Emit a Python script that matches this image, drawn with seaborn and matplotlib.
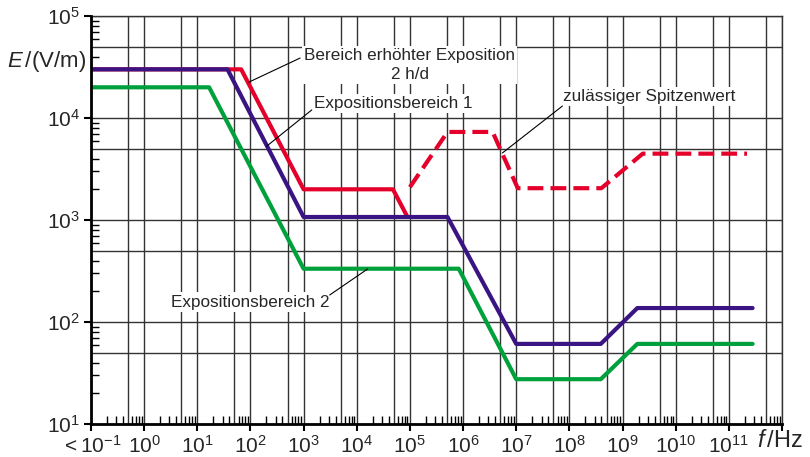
import numpy as np
import pandas as pd
import seaborn as sns
import matplotlib.pyplot as plt
from matplotlib.ticker import FixedLocator, NullFormatter

# Grenzwerte E-Feld
freq_bereich1 = [0.1, 37, 1e3, 5.1e5, 1e7, 3.9e8, 1.9e9, 2.8e11]
e_bereich1 = [3e4, 3e4, 1070, 1070, 61, 61, 137, 137]

freq_bereich2 = [0.1, 16.7, 1e3, 8.3e5, 1e7, 3.9e8, 1.9e9, 2.8e11]
e_bereich2 = [2e4, 2e4, 333, 333, 27.5, 27.5, 61, 61]

freq_erhoeht = [0.1, 67, 1e3, 4.8e4, 9e4]
e_erhoeht = [3e4, 3e4, 2000, 2000, 1070]

freq_spitze = [1e5, 5.1e5, 3.6e6, 1.07e7, 4e8, 2.4e9, 2.2e11]
e_spitze = [2100, 7300, 7300, 2050, 2050, 4470, 4470]

x_decades = list(range(-1, 13))
x_labels = ["$<10^{-1}$"] + ["$10^{%d}$" % d for d in range(0, 12)] + [""]
y_decades = list(range(1, 6))
y_labels = ["$10^{%d}$" % d for d in y_decades]

RED = "#e4002b"
PURPLE = "#3a1482"
GREEN = "#00a13c"

sns.set_style("white")
plt.rcParams['font.family'] = ['Liberation Sans', 'DejaVu Sans']
plt.rcParams['mathtext.fontset'] = 'custom'
plt.rcParams['mathtext.rm'] = 'Liberation Sans'
plt.rcParams['mathtext.it'] = 'Liberation Sans:italic'

fig = plt.figure(figsize=(8.1, 4.57), dpi=100)
ax = fig.add_axes([0.1123, 0.0722, 0.8531, 0.8928])
ax.set_xscale('log')
ax.set_yscale('log')
ax.set_xlim(0.1, 1e12)
ax.set_ylim(10, 1e5)

# grid: decades + 5x lines
grid_kw = dict(color='0.2', lw=1.0, zorder=0)
for d in x_decades:
    ax.axvline(10.0 ** d, **grid_kw)
    if d < 12:
        ax.axvline(5 * 10.0 ** d, **grid_kw)
for d in y_decades:
    ax.axhline(10.0 ** d, **grid_kw)
    if d < 5:
        ax.axhline(5 * 10.0 ** d, **grid_kw)

lw = 3
sns.lineplot(x=freq_bereich2, y=e_bereich2, ax=ax, color=GREEN, lw=lw, sort=False, estimator=None, zorder=3)
sns.lineplot(x=freq_erhoeht, y=e_erhoeht, ax=ax, color=RED, lw=lw, sort=False, estimator=None, zorder=3)
sns.lineplot(x=freq_spitze, y=e_spitze, ax=ax, color=RED, lw=lw, sort=False, estimator=None, zorder=3,
             linestyle=(0, (3.8, 1.7)))
sns.lineplot(x=freq_bereich1, y=e_bereich1, ax=ax, color=PURPLE, lw=lw, sort=False, estimator=None, zorder=4)

# ticks
ax.xaxis.set_major_locator(FixedLocator([10.0 ** d for d in x_decades]))
ax.set_xticklabels(x_labels)
ax.yaxis.set_major_locator(FixedLocator([10.0 ** d for d in y_decades]))
ax.set_yticklabels(y_labels)
subs = [2, 3, 4, 6, 7, 8, 9]
ax.xaxis.set_minor_locator(FixedLocator([s * 10.0 ** d for d in x_decades[:-1] for s in subs]))
ax.yaxis.set_minor_locator(FixedLocator([s * 10.0 ** d for d in y_decades[:-1] for s in subs]))
ax.xaxis.set_minor_formatter(NullFormatter())
ax.yaxis.set_minor_formatter(NullFormatter())
ax.tick_params(which='both', bottom=True, left=True, top=False, right=False)
ax.tick_params(which='major', direction='out', length=5, width=1.5, labelsize=15, color='black', pad=3)
ax.tick_params(which='minor', direction='in', length=6, width=1, color='black')
ax.set_xlabel("")
ax.set_ylabel("")

for side in ['left', 'bottom']:
    ax.spines[side].set_linewidth(2)
    ax.spines[side].set_color('black')
    ax.spines[side].set_zorder(5)
for side in ['top', 'right']:
    ax.spines[side].set_linewidth(1.0)
    ax.spines[side].set_color('0.2')

# annotations
box = dict(fc='white', ec='none', pad=1.5)
lead = dict(arrowstyle='-', lw=0.8, color='black', shrinkA=0, shrinkB=0)
fs = 12.3
ax.text(1e5, 3.3e4, "Bereich erhöhter Exposition\n2 h/d", ha='center', va='center',
        fontsize=fs, linespacing=1.35, bbox=box, zorder=6)
ax.annotate("", xy=(94, 2.25e4), xytext=(860, 3.87e4), arrowprops=lead, zorder=6)

ax.text(4.8e4, 1.4e4, "Expositionsbereich 1", ha='center', va='center', fontsize=fs, bbox=box, zorder=6)
ax.annotate("", xy=(203, 5300), xytext=(1426, 1.2e4), arrowprops=lead, zorder=6)

ax.text(3.2e9, 1.64e4, "zulässiger Spitzenwert", ha='center', va='center', fontsize=fs, bbox=box, zorder=6)
ax.annotate("", xy=(5.5e6, 4540), xytext=(7.4e7, 1.31e4), arrowprops=lead, zorder=6)

ax.text(98, 157, "Expositionsbereich 2", ha='center', va='center', fontsize=fs, bbox=box, zorder=6)
ax.annotate("", xy=(1.6e4, 331), xytext=(3100, 184), arrowprops=lead, zorder=6)

fig.text(86 / 810, 1 - 62 / 457, r"$\mathit{E}\,$/(V/m)", ha='right', va='center', fontsize=16)
fig.text(803 / 810, 1 - 441 / 457, r"$\mathit{f}\,$/Hz", ha='right', va='center', fontsize=17)

fig.savefig("out.png", dpi=100)
